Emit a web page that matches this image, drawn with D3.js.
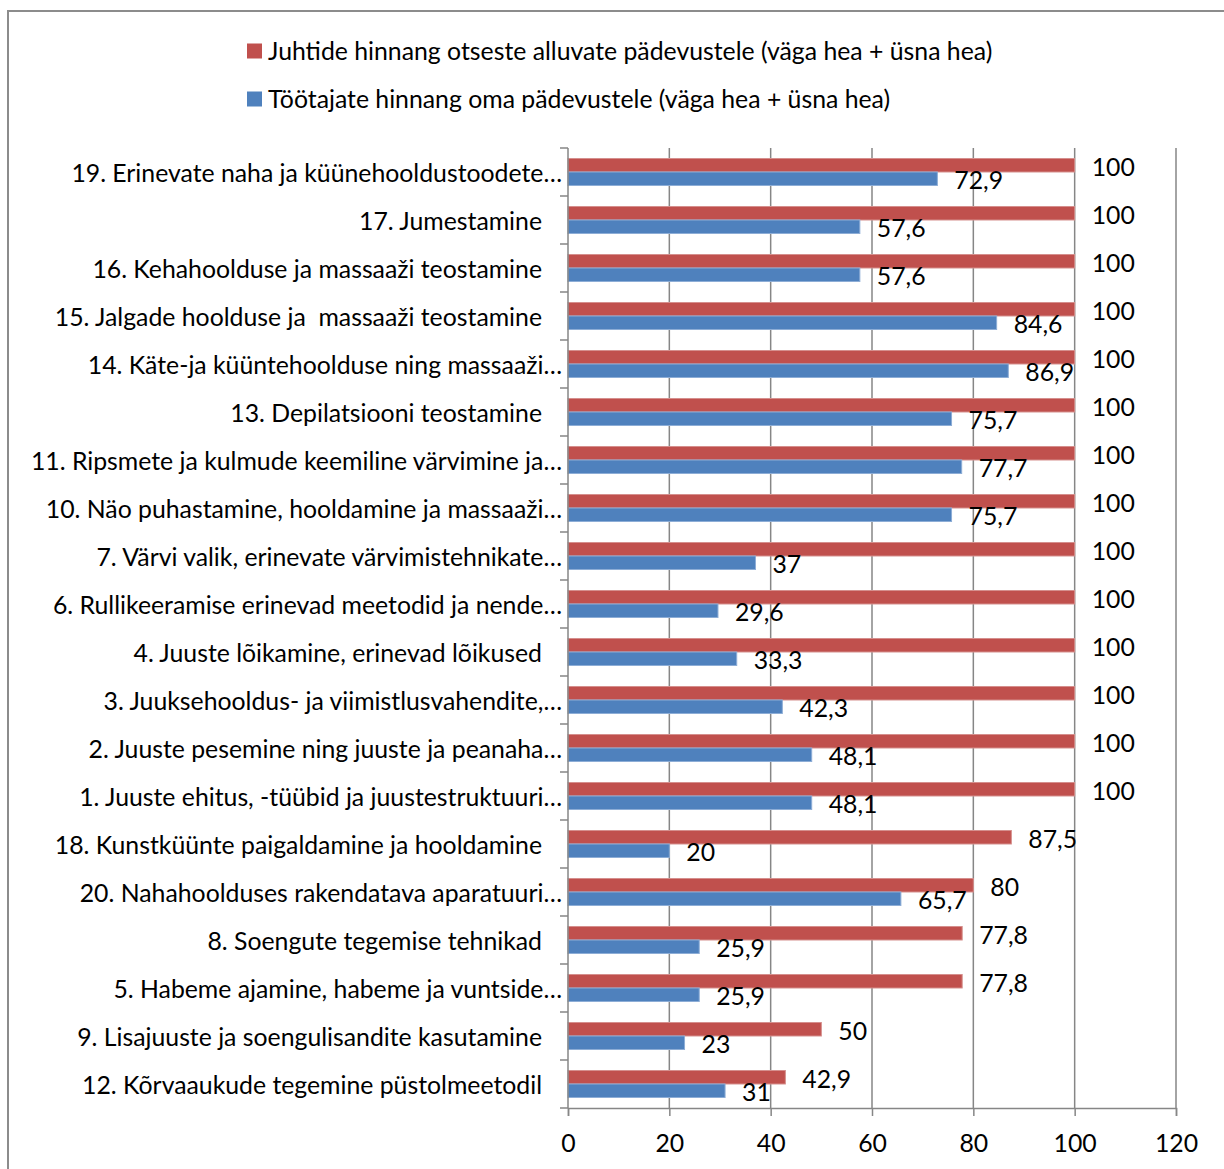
<!DOCTYPE html>
<html>
<head>
<meta charset="utf-8">
<script src="https://cdn.jsdelivr.net/npm/d3@7"></script>
<style>
  html, body { margin: 0; padding: 0; background: #fff; }
  svg { display: block; }
  text { font-family: Lato, "Open Sans", sans-serif; fill: #000; white-space: pre; }
</style>
</head>
<body>
<svg id="chart" width="1224" height="1169"></svg>
<script>
const categories = [
  "19. Erinevate naha ja küünehooldustoodete…",
  "17. Jumestamine",
  "16. Kehahoolduse ja massaaži teostamine",
  "15. Jalgade hoolduse ja  massaaži teostamine",
  "14. Käte-ja küüntehoolduse ning massaaži…",
  "13. Depilatsiooni teostamine",
  "11. Ripsmete ja kulmude keemiline värvimine ja…",
  "10. Näo puhastamine, hooldamine ja massaaži…",
  "7. Värvi valik, erinevate värvimistehnikate…",
  "6. Rullikeeramise erinevad meetodid ja nende…",
  "4. Juuste lõikamine, erinevad lõikused",
  "3. Juuksehooldus- ja viimistlusvahendite,…",
  "2. Juuste pesemine ning juuste ja peanaha…",
  "1. Juuste ehitus, -tüübid ja juustestruktuuri…",
  "18. Kunstküünte paigaldamine ja hooldamine",
  "20. Nahahoolduses rakendatava aparatuuri…",
  "8. Soengute tegemise tehnikad",
  "5. Habeme ajamine, habeme ja vuntside…",
  "9. Lisajuuste ja soengulisandite kasutamine",
  "12. Kõrvaaukude tegemine püstolmeetodil"
];
const managers = [100,100,100,100,100,100,100,100,100,100,100,100,100,100,87.5,80,77.8,77.8,50,42.9];
const employees = [72.9,57.6,57.6,84.6,86.9,75.7,77.7,75.7,37,29.6,33.3,42.3,48.1,48.1,20,65.7,25.9,25.9,23,31];
const seriesNames = [
  "Juhtide hinnang otseste alluvate pädevustele (väga hea + üsna hea)",
  "Töötajate hinnang oma pädevustele (väga hea + üsna hea)"
];
const xTicks = [0,20,40,60,80,100,120];

const colors = ["#C0504D", "#4F81BD"];
const strokes = ["#D58F8D", "#8DADD6"];
const axisColor = "#868686";
const fontSize = 24.8;

const svg = d3.select("#chart");

// outer border
svg.append("rect")
  .attr("x", 8).attr("y", 11)
  .attr("width", 1240).attr("height", 1200)
  .attr("fill", "none").attr("stroke", "#8c8c8c").attr("stroke-width", 2);

const plot = { left: 568, right: 1176, top: 148, bottom: 1108 };

const x = d3.scaleLinear().domain([0, 120]).range([plot.left, plot.right]);
const pad = 0.4375;
const y = d3.scaleBand().domain(categories).range([plot.top, plot.bottom])
  .paddingInner(pad).paddingOuter(pad / 2);
const step = y.step();
const inner = d3.scaleBand().domain([0, 1]).range([0, y.bandwidth()]);

// gridlines
svg.append("g").selectAll("line").data(xTicks.slice(1)).join("line")
  .attr("x1", d => x(d)).attr("x2", d => x(d))
  .attr("y1", plot.top).attr("y2", plot.bottom)
  .attr("stroke", axisColor).attr("stroke-width", 1.5);

// bars
const series = [managers, employees];
const gBars = svg.append("g");
series.forEach((vals, si) => {
  gBars.selectAll(null).data(vals).join("rect")
    .attr("x", x(0))
    .attr("y", (d, i) => y(categories[i]) + inner(si))
    .attr("width", d => x(d) - x(0))
    .attr("height", inner.bandwidth())
    .attr("fill", colors[si])
    .attr("stroke", strokes[si]).attr("stroke-width", 1);
});

// x axis
const xAxis = d3.axisBottom(x).tickValues(xTicks).tickSize(8).tickPadding(18).tickFormat(d3.format("d"));
const gx = svg.append("g").attr("transform", `translate(0,${plot.bottom})`).call(xAxis);
gx.select(".domain").attr("stroke", axisColor).attr("stroke-width", 1.5);
gx.selectAll(".tick line").attr("stroke", axisColor).attr("stroke-width", 1.5);
gx.selectAll(".tick text").attr("font-size", fontSize).attr("font-family", "Lato, sans-serif").attr("fill", "#000");

// y axis line & ticks at category boundaries
svg.append("line")
  .attr("x1", plot.left).attr("x2", plot.left)
  .attr("y1", plot.top).attr("y2", plot.bottom)
  .attr("stroke", axisColor).attr("stroke-width", 1.5);
const boundaries = categories.map(c => y(c) - step * pad / 2).concat([plot.bottom]);
svg.append("g").selectAll("line").data(boundaries).join("line")
  .attr("x1", plot.left - 8).attr("x2", plot.left)
  .attr("y1", d => d).attr("y2", d => d)
  .attr("stroke", axisColor).attr("stroke-width", 1.5);

// category labels
svg.append("g").selectAll("text").data(categories).join("text")
  .attr("x", d => d.endsWith("…") ? plot.left - 6 : plot.left - 26)
  .attr("y", d => y(d) + y.bandwidth() / 2 + 1)
  .attr("dy", "0.35em")
  .attr("text-anchor", "end")
  .attr("font-size", fontSize)
  .text(d => d);

// data labels
const fmt = v => String(v).replace(".", ",");
series.forEach((vals, si) => {
  svg.append("g").selectAll("text").data(vals).join("text")
    .attr("x", d => x(d) + 17)
    .attr("y", (d, i) => y(categories[i]) + inner(si) + inner.bandwidth() / 2 + 2)
    .attr("dy", "0.35em")
    .attr("font-size", fontSize)
    .text(d => fmt(d));
});

// legend
const legend = svg.append("g");
seriesNames.forEach((name, i) => {
  const cy = 51 + i * 48;
  legend.append("rect").attr("x", 247).attr("y", cy - 7.5).attr("width", 15).attr("height", 15).attr("fill", colors[i]);
  legend.append("text").attr("x", 268).attr("y", cy).attr("dy", "0.35em").attr("font-size", fontSize).text(name);
});
</script>
</body>
</html>
